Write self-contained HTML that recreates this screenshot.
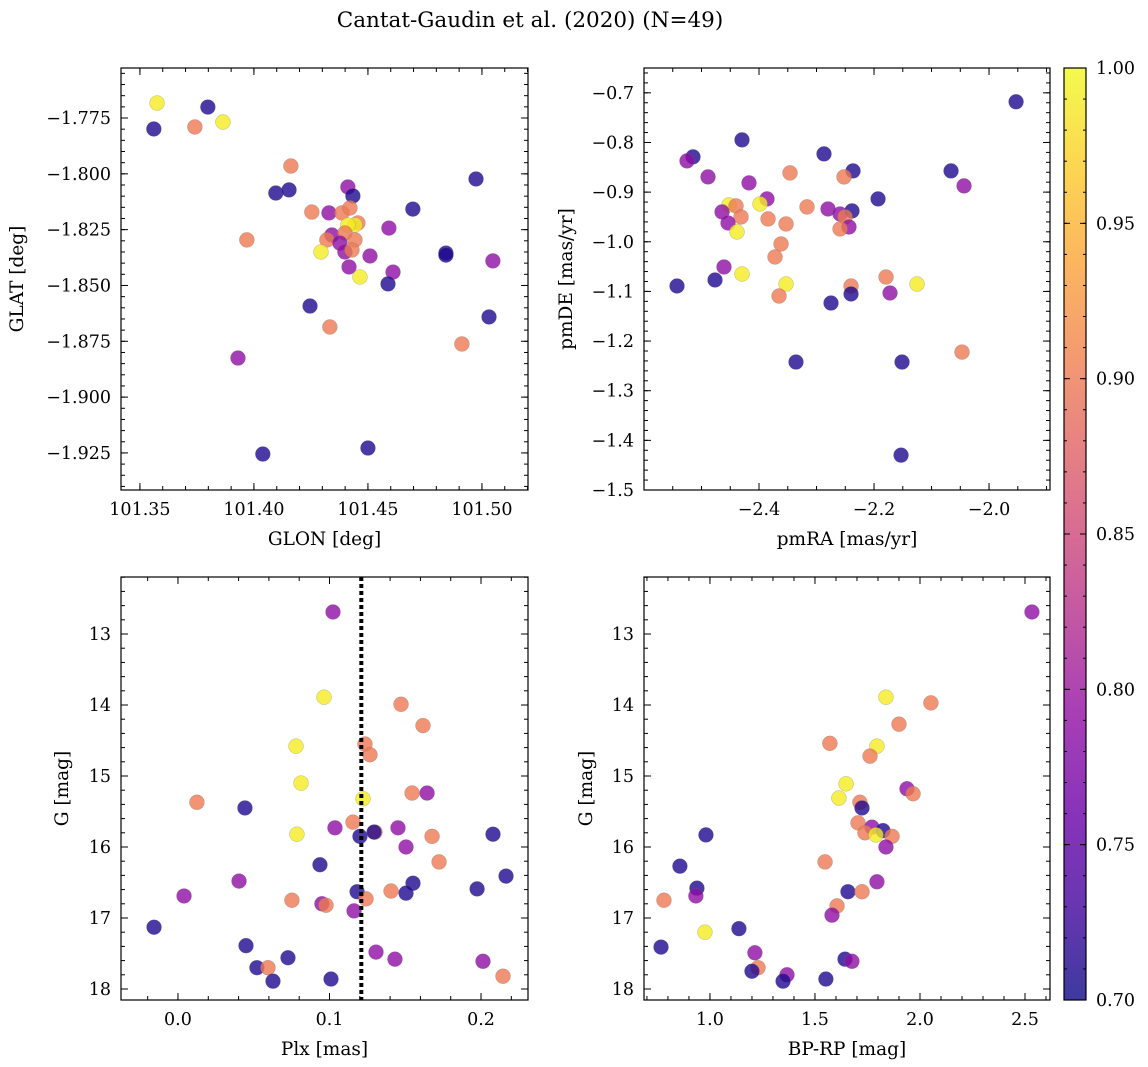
<!DOCTYPE html>
<html><head><meta charset="utf-8"><style>
body{margin:0;background:#fff;}
svg{display:block;font-family:"DejaVu Serif","Liberation Serif",serif;}
</style></head><body>
<svg id="chart" width="1148" height="1067" xmlns="http://www.w3.org/2000/svg">
<text x="530" y="27" text-anchor="middle" font-size="21.5">Cantat-Gaudin et al. (2020) (N=49)</text>
</svg>
<script>
// ---- data (N navy=0.71, P purple=0.79, S salmon=0.90, Y yellow=0.99) ----
const glon=[101.3575,101.3561,101.3798,101.3741,101.3864,101.4162,101.4096,101.4154,101.4254,101.3969,101.4412,101.4434,101.4329,101.4386,101.4421,101.4456,101.4443,101.4412,101.4592,101.4342,101.4399,101.4320,101.4443,101.4377,101.4399,101.4430,101.4294,101.4509,101.4417,101.4465,101.4610,101.4588,101.4697,101.4974,101.4842,101.4842,101.5048,101.5031,101.4912,101.4246,101.4333,101.3930,101.4039,101.4500];
const glat=[-1.7683,-1.7799,-1.7701,-1.7790,-1.7768,-1.7965,-1.8086,-1.8072,-1.8171,-1.8296,-1.8059,-1.8099,-1.8175,-1.8175,-1.8153,-1.8220,-1.8229,-1.8229,-1.8243,-1.8274,-1.8265,-1.8296,-1.8296,-1.8310,-1.8350,-1.8341,-1.8350,-1.8368,-1.8417,-1.8462,-1.8440,-1.8493,-1.8158,-1.8023,-1.8355,-1.8364,-1.8390,-1.8641,-1.8762,-1.8592,-1.8686,-1.8825,-1.9255,-1.9228];
const probA=[0.99,0.71,0.71,0.90,0.99,0.90,0.71,0.71,0.90,0.90,0.79,0.71,0.79,0.90,0.90,0.90,0.99,0.99,0.79,0.79,0.90,0.90,0.90,0.79,0.79,0.90,0.99,0.79,0.79,0.99,0.79,0.71,0.71,0.71,0.71,0.71,0.79,0.71,0.90,0.71,0.90,0.79,0.71,0.71];

const pmra=[-2.4296,-2.5148,-2.5252,-2.4887,-2.4174,-2.2870,-2.2365,-2.2522,-2.3461,-2.1930,-2.4522,-2.4400,-2.4643,-2.4313,-2.3861,-2.3983,-2.4539,-2.3843,-2.3530,-2.3165,-2.2800,-2.2591,-2.2383,-2.2504,-2.2435,-2.2591,-2.4383,-2.3617,-2.3722,-2.4609,-2.4296,-2.4765,-2.5426,-2.3530,-2.3652,-2.2400,-2.2400,-2.2748,-2.1791,-2.1722,-1.9530,-2.0661,-2.0435,-2.1252,-2.0470,-2.3357,-2.1513,-2.1530];
const pmde=[-0.7948,-0.8290,-0.8371,-0.8694,-0.8815,-0.8230,-0.8573,-0.8694,-0.8613,-0.9137,-0.9258,-0.9278,-0.9399,-0.9500,-0.9137,-0.9238,-0.9621,-0.9540,-0.9641,-0.9298,-0.9339,-0.9440,-0.9379,-0.9500,-0.9702,-0.9742,-0.9802,-1.0044,-1.0306,-1.0508,-1.0649,-1.0770,-1.0891,-1.0851,-1.1093,-1.0891,-1.1052,-1.1234,-1.0710,-1.1032,-0.7181,-0.8573,-0.8875,-1.0851,-1.2222,-1.2423,-1.2423,-1.4298];
const probB=[0.71,0.71,0.79,0.79,0.79,0.71,0.71,0.90,0.90,0.71,0.99,0.90,0.79,0.90,0.79,0.99,0.79,0.90,0.90,0.90,0.79,0.79,0.71,0.90,0.79,0.90,0.99,0.90,0.90,0.79,0.99,0.71,0.71,0.99,0.90,0.90,0.71,0.71,0.90,0.79,0.71,0.71,0.79,0.99,0.90,0.71,0.71,0.71];

const plx=[0.1023,0.0964,0.1472,0.1617,0.0779,0.1234,0.1267,0.0812,0.1221,0.1644,0.1545,0.0125,0.0442,0.1155,0.1036,0.1452,0.1300,0.1294,0.0785,0.1201,0.1677,0.2079,0.1505,0.0937,0.1723,0.1551,0.1974,0.2165,0.0403,0.0040,0.1182,0.1406,0.1505,0.0752,0.0950,0.0977,0.1241,0.1162,-0.0158,0.1432,0.0449,0.0726,0.1307,0.2013,0.2145,0.0521,0.0594,0.0627,0.1010];
const gmagC=[12.69,13.89,13.99,14.29,14.58,14.55,14.70,15.10,15.32,15.24,15.24,15.37,15.45,15.65,15.73,15.73,15.79,15.79,15.82,15.85,15.85,15.82,16.00,16.25,16.21,16.51,16.59,16.41,16.48,16.69,16.63,16.62,16.65,16.75,16.80,16.82,16.73,16.90,17.13,17.58,17.39,17.56,17.48,17.61,17.82,17.70,17.70,17.89,17.86];
const probC=[0.79,0.99,0.90,0.90,0.99,0.90,0.90,0.99,0.99,0.79,0.90,0.90,0.71,0.90,0.79,0.79,0.90,0.71,0.99,0.71,0.90,0.71,0.79,0.71,0.90,0.71,0.71,0.71,0.79,0.79,0.71,0.90,0.71,0.90,0.79,0.90,0.90,0.79,0.71,0.79,0.71,0.71,0.79,0.79,0.90,0.71,0.90,0.71,0.71];
const plxCut=[0.121];

const bprp=[1.838,2.052,1.900,1.571,1.795,1.762,1.648,1.614,1.938,1.967,1.714,1.724,1.705,1.771,1.824,1.738,1.790,1.867,1.838,1.548,1.795,1.657,1.724,2.533,0.981,0.857,0.938,0.933,0.781,1.138,0.976,0.767,1.605,1.581,1.214,1.229,1.200,1.367,1.348,1.552,1.643,1.676];
const gmagD=[13.89,13.97,14.27,14.54,14.58,14.72,15.11,15.31,15.18,15.25,15.37,15.45,15.66,15.72,15.77,15.80,15.83,15.85,16.00,16.21,16.49,16.63,16.63,12.69,15.83,16.27,16.58,16.69,16.75,17.15,17.20,17.41,16.83,16.96,17.49,17.70,17.75,17.80,17.89,17.86,17.58,17.61];
const probD=[0.99,0.90,0.90,0.90,0.99,0.90,0.99,0.99,0.79,0.90,0.90,0.71,0.90,0.79,0.71,0.90,0.99,0.90,0.79,0.90,0.79,0.71,0.90,0.79,0.71,0.71,0.71,0.79,0.90,0.71,0.99,0.71,0.90,0.79,0.79,0.90,0.71,0.79,0.71,0.71,0.71,0.79];

const cbTicks=[0.70,0.75,0.80,0.85,0.90,0.95,1.00];

// ---- helpers ----
const NS="http://www.w3.org/2000/svg";
const svg=document.getElementById('chart');
function mk(tag,attrs,parent){const e=document.createElementNS(NS,tag);for(const k in attrs)e.setAttribute(k,attrs[k]);(parent||svg).appendChild(e);return e;}
const stops=[[13,8,135],[65,4,157],[106,0,168],[143,13,164],[177,42,144],[204,71,120],[225,100,98],[242,132,75],[252,166,54],[252,206,37],[240,249,33]];
function plasma(t){t=Math.max(0,Math.min(1,t));const f=t*10,i=Math.min(9,Math.floor(f)),u=f-i;const a=stops[i],b=stops[i+1];return 'rgb('+a.map((v,k)=>Math.round(v+(b[k]-v)*u)).join(',')+')';}
const vmin=0.7,vmax=1.0;
function fmt(v,d){const s=v.toFixed(d);return s.replace('-','\u2212');}
const FT=17.5, FL=18.5;

function panel(name,box,xr,yr,xt,xminor,yt,yminor,xd,yd,xlab,ylab,xs,ys,ps,ylx){
  const [L,T,R,B]=box;
  const X=v=>L+(v-xr[0])/(xr[1]-xr[0])*(R-L);
  const Y=v=>T+(v-yr[0])/(yr[1]-yr[0])*(B-T);
  const g=mk('g',{});
  
  
  const clip=mk('clipPath',{id:name+'-clip'},g);mk('rect',{x:L,y:T,width:R-L,height:B-T},clip);
  const pts=mk('g',{'clip-path':'url(#'+name+'-clip)'},g);
  for(let i=0;i<xs.length;i++){
    const c=mk('circle',{cx:X(xs[i]),cy:Y(ys[i]),r:7.5,fill:plasma((ps[i]-vmin)/(vmax-vmin)),'fill-opacity':0.8,stroke:'#777','stroke-width':0.4,'stroke-opacity':0.6},pts);
    
    
  }
  const tk=mk('g',{stroke:'#000','stroke-width':1},g);
  const lo=Math.min(...xr),hi=Math.max(...xr);
  for(let v=Math.ceil(lo/xminor-1e-6)*xminor;v<=hi+1e-9;v+=xminor){const x=X(v);mk('line',{x1:x,y1:B,x2:x,y2:B-4},tk);mk('line',{x1:x,y1:T,x2:x,y2:T+4},tk);}
  xt.forEach(v=>{const x=X(v);mk('line',{x1:x,y1:B,x2:x,y2:B-7},tk);mk('line',{x1:x,y1:T,x2:x,y2:T+7},tk);
    const t=mk('text',{x:x,y:B+25,'text-anchor':'middle','font-size':FT},g);t.textContent=fmt(v,xd);
    });
  const ylo=Math.min(...yr),yhi=Math.max(...yr);
  for(let v=Math.ceil(ylo/yminor-1e-6)*yminor;v<=yhi+1e-9;v+=yminor){const y=Y(v);mk('line',{x1:L,y1:y,x2:L+4,y2:y},tk);mk('line',{x1:R,y1:y,x2:R-4,y2:y},tk);}
  yt.forEach(v=>{const y=Y(v);mk('line',{x1:L,y1:y,x2:L+7,y2:y},tk);mk('line',{x1:R,y1:y,x2:R-7,y2:y},tk);
    const t=mk('text',{x:L-10,y:y+6,'text-anchor':'end','font-size':FT},g);t.textContent=fmt(v,yd);
    });
  mk('rect',{x:L,y:T,width:R-L,height:B-T,fill:'none',stroke:'#000','stroke-width':1.2},g);
  const xl=mk('text',{x:(L+R)/2,y:B+55,'text-anchor':'middle','font-size':FL},g);xl.textContent=xlab;
  
  const yl=mk('text',{x:ylx,y:(T+B)/2,'text-anchor':'middle','font-size':FL,transform:'rotate(-90 '+ylx+' '+(T+B)/2+')'},g);yl.textContent=ylab;
  
  return {X,Y,g};
}

panel('panel-glon-glat',[121,68,528,490],[101.3417,101.5202],[-1.7526,-1.9416],[101.35,101.40,101.45,101.50],0.01,[-1.775,-1.8,-1.825,-1.85,-1.875,-1.9,-1.925],0.005,2,3,'GLON [deg]','GLAT [deg]',glon,glat,probA,23);
panel('panel-pm',[644,68,1050,490],[-2.6,-1.894],[-0.65,-1.5],[-2.4,-2.2,-2.0],0.05,[-0.7,-0.8,-0.9,-1.0,-1.1,-1.2,-1.3,-1.4,-1.5],0.02,1,1,'pmRA [mas/yr]','pmDE [mas/yr]',pmra,pmde,probB,572);
const p3=panel('panel-plx-g',[121,577,528,1000],[-0.0376,0.231],[12.197,18.155],[0.0,0.1,0.2],0.02,[13,14,15,16,17,18],0.2,1,0,'Plx [mas]','G [mag]',plx,gmagC,probC,68);
panel('panel-cmd',[644,577,1050,1000],[0.686,2.619],[12.197,18.155],[1.0,1.5,2.0,2.5],0.1,[13,14,15,16,17,18],0.2,1,0,'BP-RP [mag]','G [mag]',bprp,gmagD,probD,592);
plxCut.forEach(v=>{const l=mk('line',{x1:p3.X(v),y1:577,x2:p3.X(v),y2:1000,stroke:'#000','stroke-width':4,'stroke-dasharray':'4,3'});
  });

// colorbar
const defs=mk('defs',{});const lg=mk('linearGradient',{id:'cbg',x1:0,y1:1,x2:0,y2:0},defs);
for(let i=0;i<=20;i++)mk('stop',{offset:i/20,'stop-color':plasma(i/20),'stop-opacity':0.8},lg);
const cb=mk('g',{});
const cT=68,cB=1000,cL=1064,cR=1086;
mk('rect',{x:cL,y:cT,width:cR-cL,height:cB-cT,fill:'url(#cbg)'},cb);
const CY=v=>cB-(v-vmin)/(vmax-vmin)*(cB-cT);
for(let v=0.70;v<=1.0001;v+=0.01){mk('line',{x1:cR,y1:CY(v),x2:cR-3,y2:CY(v),stroke:'#000'},cb);mk('line',{x1:cL,y1:CY(v),x2:cL+3,y2:CY(v),stroke:'#000'},cb);}
cbTicks.forEach(v=>{const y=CY(v);mk('line',{x1:cR,y1:y,x2:cR-6,y2:y,stroke:'#000'},cb);mk('line',{x1:cL,y1:y,x2:cL+6,y2:y,stroke:'#000'},cb);
  const t=mk('text',{x:cR+10,y:y+6,'font-size':FT},cb);t.textContent=v.toFixed(2);
  });
mk('rect',{x:cL,y:cT,width:cR-cL,height:cB-cT,fill:'none',stroke:'#000','stroke-width':1.2},cb);
</script>
</body></html>
